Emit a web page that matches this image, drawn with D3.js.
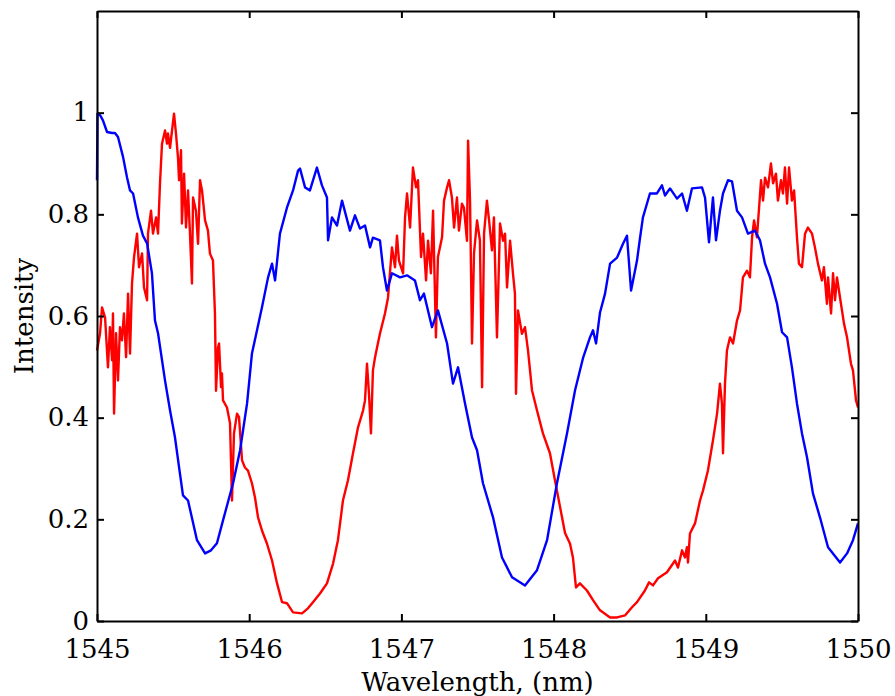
<!DOCTYPE html>
<html>
<head>
<meta charset="utf-8">
<script src="https://cdn.jsdelivr.net/npm/d3@7"></script>
<style>
    body { margin: 0; background: #fff; }
    svg { display: block; }
    .axis text { font-family: "DejaVu Serif", serif; font-size: 26px; fill: #000; }
    .axis path, .axis line { stroke: #000; stroke-width: 2; }
    .axis-title { font-family: "DejaVu Serif", serif; font-size: 26px; fill: #000; }
    .trace { fill: none; stroke-width: 2.4; stroke-linejoin: round; }
</style>
</head>
<body>
<div id="chart"></div>
<script>
// ticks
const xTicks = [1545, 1546, 1547, 1548, 1549, 1550];
const yTicks = [0, 0.2, 0.4, 0.6, 0.8, 1];

// blue trace (wavelength nm, intensity)
const blueWl = [
    1545.000, 1545.003, 1545.020, 1545.039, 1545.066, 1545.099, 1545.118, 1545.138, 1545.171, 1545.197,
    1545.217, 1545.237, 1545.269, 1545.302, 1545.329, 1545.361, 1545.381, 1545.401, 1545.447, 1545.480,
    1545.512, 1545.545, 1545.565, 1545.598, 1545.657, 1545.710, 1545.749, 1545.788, 1545.828, 1545.894,
    1545.940, 1545.986, 1546.018, 1546.084, 1546.124, 1546.150, 1546.170, 1546.202, 1546.248, 1546.288,
    1546.321, 1546.334, 1546.367, 1546.399, 1546.445, 1546.478, 1546.511, 1546.518, 1546.544, 1546.577,
    1546.610, 1546.662, 1546.695, 1546.728, 1546.761, 1546.794, 1546.813, 1546.859, 1546.879, 1546.905,
    1546.938, 1546.991, 1547.037, 1547.089, 1547.122, 1547.148, 1547.201, 1547.240, 1547.300, 1547.339,
    1547.372, 1547.418, 1547.464, 1547.497, 1547.536, 1547.602, 1547.661, 1547.727, 1547.812, 1547.891,
    1547.957, 1548.022, 1548.088, 1548.141, 1548.193, 1548.239, 1548.259, 1548.279, 1548.305, 1548.338,
    1548.371, 1548.417, 1548.456, 1548.482, 1548.509, 1548.548, 1548.568, 1548.587, 1548.633, 1548.679,
    1548.712, 1548.732, 1548.765, 1548.811, 1548.844, 1548.876, 1548.909, 1548.975, 1548.995, 1549.021,
    1549.047, 1549.067, 1549.093, 1549.113, 1549.146, 1549.172, 1549.205, 1549.238, 1549.277, 1549.323,
    1549.356, 1549.389, 1549.422, 1549.468, 1549.501, 1549.534, 1549.566, 1549.599, 1549.632, 1549.665,
    1549.704, 1549.750, 1549.803, 1549.882, 1549.928, 1549.967, 1550.000
];
const blueVal = [
    0.867, 0.998, 0.995, 0.985, 0.962, 0.960, 0.960, 0.952, 0.913, 0.873,
    0.847, 0.841, 0.794, 0.758, 0.743, 0.684, 0.591, 0.566, 0.473, 0.414,
    0.362, 0.290, 0.247, 0.237, 0.159, 0.133, 0.139, 0.153, 0.198, 0.271,
    0.336, 0.428, 0.526, 0.617, 0.676, 0.703, 0.670, 0.762, 0.813, 0.847,
    0.886, 0.890, 0.853, 0.847, 0.892, 0.857, 0.833, 0.749, 0.794, 0.778,
    0.827, 0.768, 0.798, 0.772, 0.778, 0.735, 0.754, 0.749, 0.696, 0.650,
    0.684, 0.676, 0.680, 0.670, 0.631, 0.644, 0.578, 0.611, 0.546, 0.467,
    0.499, 0.428, 0.361, 0.336, 0.271, 0.204, 0.125, 0.086, 0.070, 0.100,
    0.159, 0.271, 0.369, 0.454, 0.517, 0.558, 0.572, 0.546, 0.607, 0.644,
    0.703, 0.715, 0.742, 0.758, 0.650, 0.709, 0.754, 0.794, 0.841, 0.841,
    0.857, 0.837, 0.851, 0.831, 0.841, 0.807, 0.851, 0.853, 0.833, 0.745,
    0.833, 0.749, 0.807, 0.841, 0.867, 0.865, 0.807, 0.794, 0.762, 0.768,
    0.749, 0.703, 0.676, 0.624, 0.568, 0.558, 0.499, 0.428, 0.369, 0.322,
    0.251, 0.204, 0.145, 0.115, 0.133, 0.159, 0.192
];

// red trace (wavelength nm, intensity)
const redWl = [
    1545.000, 1545.020, 1545.033, 1545.053, 1545.072, 1545.085, 1545.099, 1545.105, 1545.112, 1545.125,
    1545.138, 1545.151, 1545.164, 1545.177, 1545.191, 1545.204, 1545.217, 1545.230, 1545.243, 1545.263,
    1545.276, 1545.296, 1545.309, 1545.329, 1545.335, 1545.355, 1545.368, 1545.388, 1545.401, 1545.414,
    1545.427, 1545.447, 1545.460, 1545.466, 1545.480, 1545.493, 1545.506, 1545.519, 1545.532, 1545.539,
    1545.552, 1545.558, 1545.572, 1545.585, 1545.598, 1545.611, 1545.624, 1545.631, 1545.650, 1545.664,
    1545.677, 1545.690, 1545.710, 1545.729, 1545.742, 1545.762, 1545.775, 1545.782, 1545.795, 1545.802,
    1545.815, 1545.821, 1545.828, 1545.854, 1545.874, 1545.887, 1545.900, 1545.920, 1545.933, 1545.953,
    1545.972, 1545.992, 1546.018, 1546.038, 1546.058, 1546.084, 1546.117, 1546.150, 1546.183, 1546.216,
    1546.248, 1546.288, 1546.347, 1546.386, 1546.419, 1546.465, 1546.511, 1546.551, 1546.583, 1546.616,
    1546.649, 1546.682, 1546.715, 1546.748, 1546.761, 1546.774, 1546.787, 1546.800, 1546.813, 1546.827,
    1546.840, 1546.859, 1546.892, 1546.912, 1546.938, 1546.958, 1546.971, 1546.984, 1547.011, 1547.024,
    1547.037, 1547.057, 1547.076, 1547.096, 1547.109, 1547.129, 1547.142, 1547.162, 1547.175, 1547.194,
    1547.208, 1547.227, 1547.240, 1547.267, 1547.280, 1547.300, 1547.313, 1547.332, 1547.346, 1547.365,
    1547.378, 1547.398, 1547.411, 1547.431, 1547.438, 1547.451, 1547.464, 1547.477, 1547.497, 1547.516,
    1547.530, 1547.543, 1547.562, 1547.576, 1547.595, 1547.608, 1547.628, 1547.648, 1547.668, 1547.681,
    1547.694, 1547.714, 1547.733, 1547.746, 1547.753, 1547.766, 1547.792, 1547.812, 1547.832, 1547.858,
    1547.891, 1547.930, 1547.976, 1548.009, 1548.042, 1548.075, 1548.108, 1548.127, 1548.147, 1548.173,
    1548.219, 1548.259, 1548.305, 1548.371, 1548.417, 1548.469, 1548.515, 1548.548, 1548.600, 1548.627,
    1548.653, 1548.686, 1548.745, 1548.798, 1548.817, 1548.844, 1548.863, 1548.876, 1548.883, 1548.896,
    1548.929, 1548.962, 1548.982, 1549.014, 1549.047, 1549.074, 1549.093, 1549.106, 1549.113, 1549.126,
    1549.139, 1549.159, 1549.179, 1549.205, 1549.225, 1549.244, 1549.271, 1549.290, 1549.304, 1549.317,
    1549.336, 1549.350, 1549.363, 1549.376, 1549.389, 1549.409, 1549.428, 1549.442, 1549.461, 1549.474,
    1549.494, 1549.507, 1549.520, 1549.534, 1549.547, 1549.566, 1549.580, 1549.599, 1549.612, 1549.632,
    1549.652, 1549.671, 1549.698, 1549.717, 1549.737, 1549.763, 1549.776, 1549.796, 1549.803, 1549.823,
    1549.836, 1549.849, 1549.862, 1549.882, 1549.908, 1549.928, 1549.954, 1549.967, 1549.987, 1550.000
];
const redVal = [
    0.532, 0.566, 0.617, 0.597, 0.499, 0.578, 0.513, 0.605, 0.408, 0.566,
    0.473, 0.578, 0.552, 0.605, 0.519, 0.644, 0.526, 0.664, 0.715, 0.762,
    0.696, 0.723, 0.656, 0.631, 0.762, 0.807, 0.762, 0.794, 0.762, 0.861,
    0.939, 0.965, 0.939, 0.959, 0.931, 0.965, 0.998, 0.959, 0.912, 0.867,
    0.926, 0.782, 0.880, 0.774, 0.847, 0.762, 0.664, 0.833, 0.807, 0.742,
    0.867, 0.847, 0.788, 0.768, 0.723, 0.709, 0.605, 0.453, 0.538, 0.546,
    0.460, 0.487, 0.434, 0.420, 0.389, 0.237, 0.369, 0.408, 0.401, 0.316,
    0.302, 0.296, 0.271, 0.243, 0.204, 0.178, 0.152, 0.119, 0.074, 0.037,
    0.035, 0.017, 0.015, 0.025, 0.037, 0.054, 0.074, 0.113, 0.159, 0.237,
    0.277, 0.330, 0.381, 0.414, 0.434, 0.506, 0.447, 0.369, 0.493, 0.519,
    0.538, 0.565, 0.605, 0.636, 0.735, 0.696, 0.758, 0.709, 0.684, 0.794,
    0.841, 0.774, 0.892, 0.853, 0.867, 0.716, 0.762, 0.670, 0.748, 0.684,
    0.807, 0.558, 0.716, 0.755, 0.827, 0.853, 0.867, 0.833, 0.774, 0.833,
    0.768, 0.821, 0.813, 0.748, 0.945, 0.827, 0.546, 0.723, 0.788, 0.748,
    0.460, 0.762, 0.827, 0.788, 0.729, 0.794, 0.558, 0.782, 0.748, 0.762,
    0.656, 0.748, 0.684, 0.644, 0.447, 0.611, 0.565, 0.578, 0.532, 0.454,
    0.414, 0.369, 0.330, 0.277, 0.225, 0.173, 0.152, 0.125, 0.066, 0.074,
    0.060, 0.041, 0.021, 0.007, 0.007, 0.011, 0.027, 0.037, 0.060, 0.076,
    0.070, 0.084, 0.096, 0.119, 0.105, 0.139, 0.125, 0.145, 0.115, 0.172,
    0.192, 0.237, 0.257, 0.296, 0.355, 0.408, 0.467, 0.428, 0.330, 0.467,
    0.532, 0.558, 0.546, 0.591, 0.611, 0.676, 0.689, 0.676, 0.755, 0.788,
    0.755, 0.813, 0.867, 0.827, 0.872, 0.853, 0.900, 0.861, 0.880, 0.827,
    0.867, 0.841, 0.892, 0.821, 0.892, 0.827, 0.847, 0.755, 0.703, 0.696,
    0.762, 0.774, 0.762, 0.735, 0.703, 0.670, 0.696, 0.624, 0.676, 0.605,
    0.684, 0.631, 0.676, 0.636, 0.585, 0.558, 0.506, 0.493, 0.434, 0.420
];

const width = 895;
const height = 696;
const margin = { top: 11, right: 37, bottom: 75, left: 97 };
const innerW = width - margin.left - margin.right;
const innerH = height - margin.top - margin.bottom;

const svg = d3.select('#chart').append('svg')
    .attr('width', width)
    .attr('height', height);

const g = svg.append('g')
    .attr('transform', `translate(${margin.left},${margin.top})`);

const x = d3.scaleLinear().domain([1545, 1550]).range([0, innerW]);
const y = d3.scaleLinear().domain([0, 1.2]).range([innerH, 0]);

const line = d3.line()
    .x(d => x(d[0]))
    .y(d => y(d[1]));

// red first, blue drawn over it
const series = [
    { color: '#ff0000', pts: d3.zip(redWl, redVal) },
    { color: '#0000ff', pts: d3.zip(blueWl, blueVal) }
];

g.selectAll('.trace')
    .data(series)
    .enter().append('path')
    .attr('class', 'trace')
    .attr('stroke', d => d.color)
    .attr('d', d => line(d.pts));

// axes, ticks pointing inward on all four sides
const yFmt = d3.format('~g');

g.append('g')
    .attr('class', 'axis')
    .attr('transform', `translate(0,${innerH})`)
    .call(d3.axisBottom(x).tickValues(xTicks).tickFormat(d3.format('d'))
        .tickSizeInner(-7).tickSizeOuter(0).tickPadding(19));

g.append('g')
    .attr('class', 'axis')
    .call(d3.axisLeft(y).tickValues(yTicks).tickFormat(yFmt)
        .tickSizeInner(-7).tickSizeOuter(0).tickPadding(8));

g.append('g')
    .attr('class', 'axis')
    .call(d3.axisTop(x).tickValues(xTicks).tickFormat('')
        .tickSizeInner(-7).tickSizeOuter(0));

g.append('g')
    .attr('class', 'axis')
    .attr('transform', `translate(${innerW},0)`)
    .call(d3.axisRight(y).tickValues(yTicks).tickFormat('')
        .tickSizeInner(-7).tickSizeOuter(0));

svg.append('text')
    .attr('class', 'axis-title')
    .attr('x', margin.left + innerW / 2)
    .attr('y', 691)
    .attr('text-anchor', 'middle')
    .text('Wavelength, (nm)');

svg.append('text')
    .attr('class', 'axis-title')
    .attr('transform', `translate(33,${margin.top + innerH / 2}) rotate(-90)`)
    .attr('text-anchor', 'middle')
    .text('Intensity');
</script>
</body>
</html>
